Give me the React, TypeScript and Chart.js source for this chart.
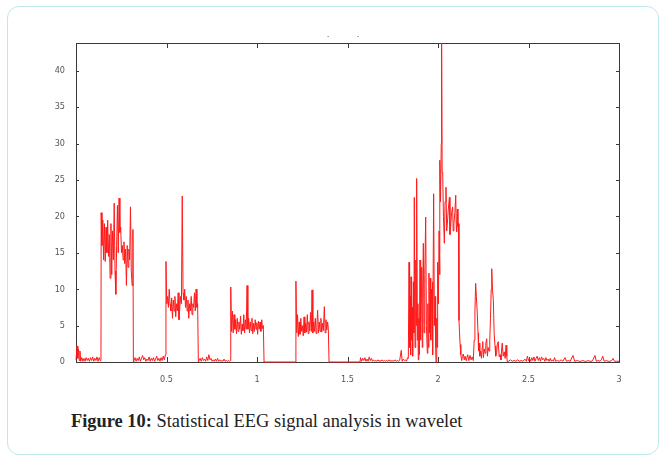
import React, { useEffect, useRef } from "react";
import { Chart, registerables } from "chart.js";

Chart.register(...registerables);

// ---- data (time in s, amplitude) ----
const timeA = [0, 0.006, 0.01, 0.014, 0.018, 0.022, 0.026, 0.032, 0.038, 0.044, 0.05, 0.056, 0.062, 0.068, 0.074, 0.08, 0.086, 0.092, 0.098, 0.104, 0.11, 0.116, 0.122, 0.128, 0.134, 0.138];
const ampA = [0.3, 2.2, 0.5, 1.8, 0.2, 1.5, 0.1, 0.6, 0.1, 0.5, 0.1, 0.6, 0.2, 0.5, 0.1, 0.6, 0.2, 0.7, 0.1, 0.5, 0.2, 0.7, 0.1, 0.6, 0.2, 0.3];

const timeB = [0.139, 0.1435, 0.148, 0.1525, 0.157, 0.1615, 0.166, 0.1705, 0.175, 0.1795, 0.184, 0.1885, 0.193, 0.1975, 0.202, 0.2065, 0.211, 0.2155, 0.22, 0.2245, 0.229, 0.2335, 0.238, 0.2425, 0.247, 0.2515, 0.256, 0.2605, 0.265, 0.2695, 0.274, 0.2785, 0.283, 0.2875, 0.292, 0.2965, 0.301, 0.3055, 0.31, 0.3145, 0.317];
const ampB = [20.5, 16, 19.5, 14, 19, 13.8, 18.5, 15, 19.5, 14.5, 17.5, 11.5, 19, 12, 18, 14, 21.8, 12.5, 9.3, 16, 21.5, 15, 22.5, 17.8, 18.5, 15, 16, 14, 16.5, 13.5, 15.5, 10.5, 16, 13, 15.5, 14, 21.3, 12.5, 10.5, 18.2, 0];

const timeC = [0.32, 0.326, 0.332, 0.338, 0.344, 0.35, 0.356, 0.362, 0.368, 0.374, 0.38, 0.386, 0.392, 0.398, 0.404, 0.41, 0.416, 0.422, 0.428, 0.434, 0.44, 0.446, 0.452, 0.458, 0.464, 0.47, 0.476, 0.482, 0.488, 0.494];
const ampC = [0.2, 0.6, 0.1, 0.5, 0.2, 0.7, 0.1, 0.5, 0.9, 0.3, 0.6, 0.1, 0.4, 0.2, 0.7, 0.1, 0.5, 0.2, 0.6, 0.1, 0.4, 0.8, 0.2, 0.5, 0.1, 0.6, 0.2, 0.8, 0.3, 1.0];

const timeD = [0.497, 0.5015, 0.506, 0.5105, 0.515, 0.5195, 0.524, 0.5285, 0.533, 0.5375, 0.542, 0.5465, 0.551, 0.5555, 0.56, 0.5645, 0.569, 0.5735, 0.578, 0.5825, 0.587, 0.5915, 0.596, 0.6005, 0.605, 0.6095, 0.614, 0.6185, 0.623, 0.6275, 0.632, 0.6365, 0.641, 0.6455, 0.65, 0.6545, 0.659, 0.6635, 0.668, 0.672, 0.676];
const ampD = [13.8, 8, 9, 7.5, 10, 8, 7, 8.8, 6, 8.5, 7, 9, 6.2, 8, 7, 9.5, 5.8, 7.5, 9, 8, 22.8, 9.5, 8.5, 10, 7.5, 9, 7, 8.5, 6, 8, 7, 9, 6.5, 8, 7.5, 9.5, 7, 10, 7.5, 8, 0];

const timeE = [0.68, 0.686, 0.692, 0.698, 0.704, 0.71, 0.716, 0.722, 0.728, 0.734, 0.74, 0.746, 0.752, 0.758, 0.764, 0.77, 0.776, 0.782, 0.788, 0.794, 0.8, 0.806, 0.812, 0.818, 0.824, 0.83, 0.836, 0.842, 0.848, 0.853];
const ampE = [0.2, 0.5, 0.1, 0.6, 0.2, 0.4, 0.1, 0.7, 0.2, 1.0, 0.3, 0.5, 0.1, 0.3, 0.1, 0.4, 0.1, 0.5, 0.1, 0.3, 0.1, 0.2, 0.1, 0.4, 0.1, 0.2, 0.1, 0.2, 0.1, 0.2];

const timeF = [0.855, 0.8595, 0.864, 0.8685, 0.873, 0.8775, 0.882, 0.8865, 0.891, 0.8955, 0.9, 0.9045, 0.909, 0.9135, 0.918, 0.9225, 0.927, 0.9315, 0.936, 0.9405, 0.945, 0.9495, 0.954, 0.9585, 0.963, 0.9675, 0.972, 0.9765, 0.981, 0.9855, 0.99, 0.9945, 0.999, 1.0035, 1.008, 1.0125, 1.017, 1.0215, 1.026, 1.0305, 1.035, 1.039, 1.1, 1.2, 1.214];
const ampF = [10.3, 4.2, 7, 4, 6.5, 4.5, 5.8, 3.9, 6, 4.2, 5.5, 4.5, 6.3, 3.8, 5.2, 4.3, 6.5, 4, 5.8, 4.5, 10.5, 4.5, 6, 4, 5.5, 4.3, 6, 3.9, 5.3, 4.2, 5.8, 4.5, 5.4, 3.8, 5.6, 4.5, 5.5, 4.2, 5.8, 4.6, 5, 0, 0, 0, 0];

const timeG = [1.215, 1.2195, 1.224, 1.2285, 1.233, 1.2375, 1.242, 1.2465, 1.251, 1.2555, 1.26, 1.2645, 1.269, 1.2735, 1.278, 1.2825, 1.287, 1.2915, 1.296, 1.3005, 1.304, 1.3085, 1.313, 1.3175, 1.322, 1.3265, 1.331, 1.335, 1.3395, 1.344, 1.3485, 1.353, 1.3575, 1.362, 1.3665, 1.372, 1.3765, 1.381, 1.3855, 1.39, 1.394, 1.398, 1.45, 1.5, 1.569];
const ampG = [11.1, 4, 6.5, 3.5, 5.5, 3.8, 6, 4.2, 5, 3.6, 6.2, 4, 5.3, 4.1, 6.5, 3.9, 5.5, 4.3, 6.8, 4.2, 9.9, 4, 5.5, 4.2, 6, 3.9, 5.2, 7.1, 4, 5.5, 4.2, 6, 4.1, 5.3, 4.3, 7.6, 4, 5.8, 4.4, 5.5, 4.6, 0, 0, 0, 0];

const timeH = [1.572, 1.578, 1.584, 1.59, 1.596, 1.602, 1.608, 1.614, 1.62, 1.626, 1.632, 1.638, 1.644, 1.65, 1.656, 1.662, 1.668, 1.674, 1.68, 1.686, 1.692, 1.698, 1.704, 1.71, 1.716, 1.722, 1.728, 1.734, 1.74, 1.746, 1.752, 1.758, 1.764, 1.77, 1.776, 1.782, 1.788, 1.797, 1.802, 1.808, 1.814, 1.82, 1.826, 1.832];
const ampH = [0.6, 0.1, 0.5, 0.2, 0.6, 0.1, 0.4, 0.1, 0.7, 0.2, 0.5, 0.1, 0.3, 0.1, 0.2, 0.1, 0.3, 0.1, 0.2, 0.1, 0.3, 0.1, 0.2, 0.1, 0.2, 0.1, 0.3, 0.1, 0.2, 0.1, 0.2, 0.1, 0.3, 0.1, 0.2, 0.1, 0.2, 1.6, 0.1, 0.4, 0.2, 0.3, 0.1, 0.6];

const timeI = [1.836, 1.84, 1.843, 1.846, 1.849, 1.851, 1.854, 1.857, 1.86, 1.864, 1.867, 1.869, 1.873, 1.877, 1.88, 1.882, 1.886, 1.889, 1.891, 1.894, 1.897, 1.9006, 1.904, 1.907, 1.91, 1.913, 1.916, 1.919, 1.923, 1.927, 1.932, 1.936, 1.941, 1.944, 1.947, 1.95, 1.954, 1.957, 1.96, 1.964, 1.967, 1.969, 1.972, 1.976, 1.98, 1.984, 1.987, 1.989, 1.993, 1.996, 1.998];
const ampI = [0.5, 13.7, 2, 9, 1, 11.7, 3, 7.5, 0.8, 11, 4, 22.6, 2, 14, 5, 25.2, 3, 8, 0.3, 6, 1, 14, 3, 9, 13, 2, 10, 16.3, 4, 12, 19.9, 5, 1.2, 8, 2, 12.2, 4, 11.5, 3, 10, 6, 11, 1, 23.1, 5, 9, 2, 0, 6, 2, 13.7];

const timeJ = [2.002, 2.006, 2.009, 2.011, 2.014, 2.018, 2.02, 2.023, 2.026, 2.03, 2.035, 2.039, 2.044, 2.048, 2.052, 2.057, 2.063, 2.066, 2.07, 2.075, 2.081, 2.084, 2.088, 2.093, 2.098, 2.101, 2.103, 2.107, 2.11, 2.113, 2.116, 2.119, 2.122, 2.126, 2.131, 2.135, 2.14, 2.145, 2.15, 2.155, 2.158, 2.164, 2.17, 2.177, 2.183, 2.189, 2.195];
const ampJ = [8, 18, 12, 27.7, 22, 30, 44, 26, 25.9, 20, 16.3, 22, 24, 18, 19.1, 21, 22.6, 17.5, 18.6, 20.5, 21.3, 18, 19, 20.5, 22.9, 18.5, 17.9, 21, 18.6, 19, 5.7, 4, 2.4, 1, 0.2, 0.8, 1.1, 0.3, 0.8, 0.2, 0.4, 1, 0.2, 0.9, 0.3, 0.7, 0.2];

const timeK = [2.2, 2.204, 2.208, 2.212, 2.217, 2.221, 2.224, 2.227, 2.231, 2.236, 2.24, 2.244, 2.247, 2.251, 2.255, 2.26, 2.264, 2.269, 2.273, 2.277, 2.282, 2.286, 2.29, 2.294, 2.297, 2.301, 2.306, 2.31, 2.315, 2.319, 2.324, 2.328, 2.333, 2.338, 2.343, 2.348, 2.352, 2.355, 2.36, 2.366, 2.371, 2.376, 2.38, 2.383];
const ampK = [3, 7, 10.8, 9, 6.7, 4, 1.5, 2.6, 0.8, 1.5, 0.5, 2, 2.8, 0.6, 1.8, 1.2, 2.5, 3.2, 0.8, 2, 1.5, 3, 6, 10, 12.8, 10, 8.4, 4, 2.2, 0.8, 1.3, 2.5, 2.8, 0.7, 1, 0.3, 2, 2.6, 0.8, 1.4, 0.5, 2.3, 0.8, 0];

const timeL = [2.39, 2.4, 2.41, 2.42, 2.43, 2.44, 2.45, 2.46, 2.47, 2.48, 2.488, 2.494, 2.5, 2.506, 2.512, 2.518, 2.524, 2.53, 2.536, 2.542, 2.548, 2.554, 2.56, 2.566, 2.572, 2.578, 2.584, 2.59, 2.596, 2.602, 2.608, 2.614, 2.62, 2.626, 2.632, 2.638, 2.644, 2.65, 2.66, 2.67, 2.68, 2.69, 2.702, 2.71, 2.72, 2.73, 2.746, 2.755, 2.77, 2.78, 2.79, 2.8, 2.81, 2.82, 2.83, 2.84, 2.85, 2.858, 2.867, 2.875, 2.885, 2.895, 2.903, 2.91, 2.918, 2.93, 2.94, 2.95, 2.96, 2.967, 2.975, 2.985, 3.0];
const ampL = [0.1, 0.3, 0.1, 0.2, 0.1, 0.3, 0.1, 0.2, 0.1, 0.4, 0.1, 0.8, 0.2, 0.5, 0.1, 0.6, 0.2, 0.7, 0.1, 0.5, 0.8, 0.2, 0.6, 0.1, 0.7, 0.3, 0.5, 0.1, 0.6, 0.2, 0.4, 0.1, 0.5, 0.1, 0.3, 0.1, 0.6, 0.1, 0.2, 0.1, 0.3, 0.1, 0.6, 0.1, 0.2, 0.1, 0.9, 0.1, 0.2, 0.1, 0.1, 0.2, 0.1, 0.1, 0.2, 0.1, 0.1, 0.4, 0.9, 0.1, 0.2, 0.1, 0.3, 0.8, 0.1, 0.2, 0.1, 0.1, 0.2, 0.5, 0.1, 0.1, 0.1];

const timeSegments = [timeA, timeB, timeC, timeD, timeE, timeF, timeG, timeH, timeI, timeJ, timeK, timeL];
const ampSegments = [ampA, ampB, ampC, ampD, ampE, ampF, ampG, ampH, ampI, ampJ, ampK, ampL];

const xTicks = [0.5, 1, 1.5, 2, 2.5, 3];
const xTickLabels = ["0.5", "1", "1.5", "2", "2.5", "3"];
const yTicks = [0, 5, 10, 15, 20, 25, 30, 35, 40];
const xMin = 0;
const xMax = 3;
const yMin = 0;
const yMax = 43.8;

const captionBold = "Figure 10:";
const captionText = " Statistical EEG signal analysis in wavelet";

const tickFont = { family: "'Liberation Sans Narrow', 'DejaVu Sans Condensed', 'Arial Narrow', sans-serif", size: 9 };

const boxPlugin = {
  id: "matlabBox",
  beforeDatasetsDraw(chart: any) {
    const { ctx, chartArea, scales } = chart;
    const { left, right, top, bottom } = chartArea;
    ctx.save();
    ctx.strokeStyle = "#3a3a3a";
    ctx.lineWidth = 1;
    ctx.strokeRect(Math.round(left) + 0.5, Math.round(top) + 0.5, Math.round(right - left), Math.round(bottom - top));
    ctx.beginPath();
    for (const v of xTicks) {
      const px = Math.round(scales.x.getPixelForValue(v)) + 0.5;
      ctx.moveTo(px, bottom);
      ctx.lineTo(px, bottom - 5);
      ctx.moveTo(px, top);
      ctx.lineTo(px, top + 5);
    }
    for (const v of yTicks) {
      const py = Math.round(scales.y.getPixelForValue(v)) + 0.5;
      ctx.moveTo(left, py);
      ctx.lineTo(left + 3, py);
      ctx.moveTo(right, py);
      ctx.lineTo(right - 3, py);
    }
    ctx.stroke();
    ctx.restore();
  },
};

export default function App() {
  const canvasRef = useRef<HTMLCanvasElement | null>(null);

  useEffect(() => {
    if (!canvasRef.current) return;
    const points: { x: number; y: number }[] = [];
    timeSegments.forEach((ts, i) => {
      ts.forEach((t, j) => points.push({ x: t, y: ampSegments[i][j] }));
    });
    const chart = new Chart(canvasRef.current, {
      type: "scatter",
      data: {
        datasets: [
          {
            data: points,
            showLine: true,
            borderColor: "#ff1a1a",
            borderWidth: 1,
            pointRadius: 0,
            tension: 0,
            clip: { left: 1, top: 0, right: 1, bottom: 2 } as any,
          },
        ],
      },
      options: {
        animation: false,
        responsive: false,
        maintainAspectRatio: false,
        layout: { padding: { left: 0, right: 46, top: 43, bottom: 0 } },
        plugins: { legend: { display: false }, tooltip: { enabled: false }, title: { display: false } },
        scales: {
          x: {
            type: "linear",
            min: xMin,
            max: xMax,
            border: { display: false },
            grid: { display: false, drawTicks: false },
            ticks: {
              font: tickFont,
              color: "#555",
              padding: 12,
              maxRotation: 0,
              callback: (v: any) => {
                const i = xTicks.indexOf(Number(v));
                return i >= 0 ? xTickLabels[i] : "";
              },
            },
            afterBuildTicks: (scale: any) => {
              scale.ticks = xTicks.map((v) => ({ value: v }));
            },
            afterFit: (scale: any) => {
              scale.height = 38;
            },
          },
          y: {
            type: "linear",
            min: yMin,
            max: yMax,
            border: { display: false },
            grid: { display: false, drawTicks: false },
            ticks: { font: tickFont, color: "#555", padding: 11 },
            afterBuildTicks: (scale: any) => {
              scale.ticks = yTicks.map((v) => ({ value: v }));
            },
            afterFit: (scale: any) => {
              scale.width = 76;
            },
          },
        },
      },
      plugins: [boxPlugin],
    });
    return () => chart.destroy();
  }, []);

  return (
    <div style={{ position: "absolute", left: 0, top: 0, width: 665, height: 458, background: "#fff", overflow: "hidden" }}>
      <div
        style={{
          position: "absolute",
          left: 7,
          top: 6,
          width: 652,
          height: 449,
          border: "1.5px solid #bfe7ef",
          borderRadius: 12,
          boxSizing: "border-box",
        }}
      />
      <canvas ref={canvasRef} width={665} height={400} style={{ position: "absolute", left: 0, top: 0, width: 665, height: 400 }} />
      <span style={{ position: "absolute", left: 327, top: 32, fontSize: 7, color: "#666", fontFamily: "sans-serif" }}>-</span>
      <span style={{ position: "absolute", left: 357, top: 32, fontSize: 7, color: "#666", fontFamily: "sans-serif" }}>-</span>
      <div
        style={{
          position: "absolute",
          left: 71,
          top: 409,
          whiteSpace: "nowrap",
          fontFamily: "'Liberation Serif', 'DejaVu Serif', serif",
          fontSize: 19,
          color: "#222",
          lineHeight: "24px",
          transform: "scaleX(0.968)",
          transformOrigin: "left center",
        }}
      >
        <b>{captionBold}</b>
        {captionText}
      </div>
    </div>
  );
}
